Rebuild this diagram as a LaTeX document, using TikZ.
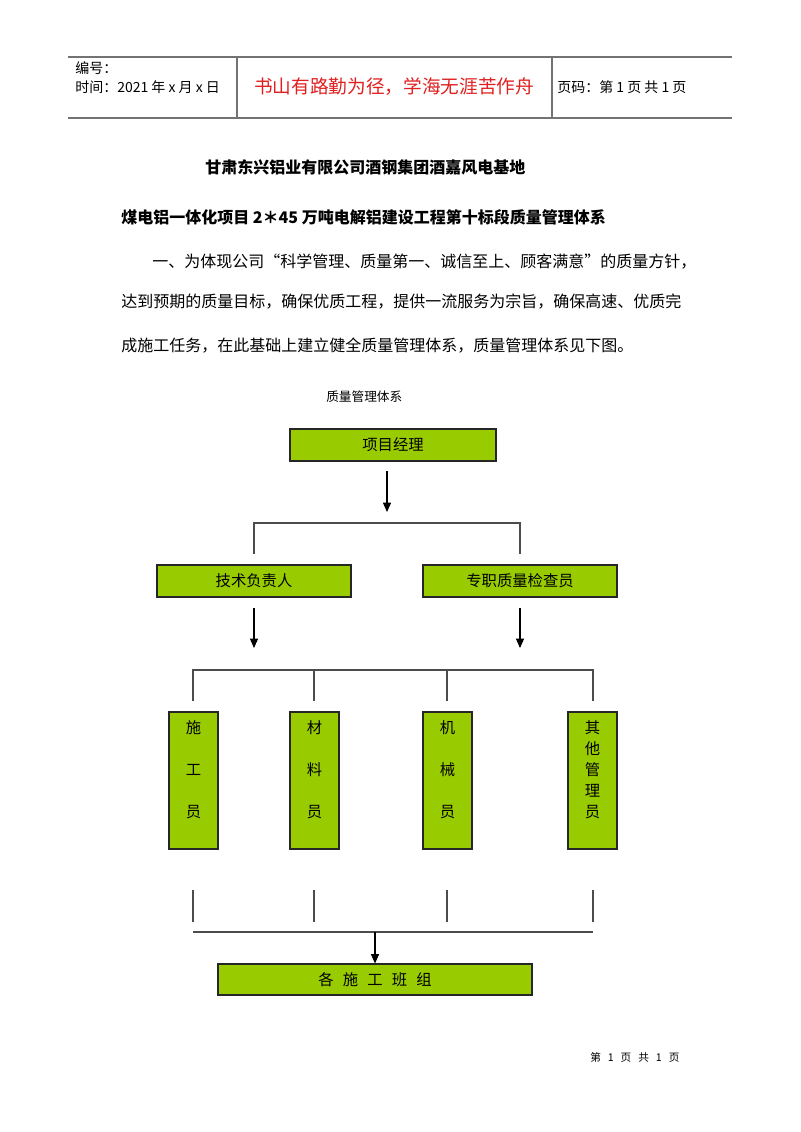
\documentclass[tikz,border=0pt]{standalone}
\usepackage{fontspec}
\setmainfont{Noto Sans CJK SC}
\usetikzlibrary{arrows.meta}
\definecolor{boxgreen}{HTML}{99CC00}
\definecolor{mottored}{HTML}{E02020}
\begin{document}
\begin{tikzpicture}[x=0.75pt,y=-0.75pt,
  box/.style={draw=black!85, line width=0.8pt, fill=boxgreen, inner sep=0pt, font=\fontsize{11.5pt}{14pt}\selectfont},
  tallbox/.style={box, minimum width=36.75pt, minimum height=102.75pt},
  conn/.style={draw=black!70, line width=0.8pt},
  arr/.style={draw=black, line width=0.8pt, -{Triangle[length=7pt,width=6pt]}},
  hline/.style={draw=black!55, line width=1.3pt},
  vline/.style={draw=black!55, line width=0.8pt},
  body/.style={anchor=west, inner sep=0pt, font=\fontsize{12pt}{14pt}\selectfont},
  vtext/.style={anchor=north, inner sep=0pt, align=center}]
\useasboundingbox (0,0) rectangle (800,1132);
\fill[white] (0,0) rectangle (800,1132);
% header
\coordinate (htl) at (68,57); \coordinate (htr) at (732,57);
\coordinate (hbl) at (68,118); \coordinate (hbr) at (732,118);
\draw[hline] (htl) -- (htr);
\draw[hline] (hbl) -- (hbr);
\coordinate (v1t) at (237,57); \coordinate (v1b) at (237,118);
\coordinate (v2t) at (552,57); \coordinate (v2b) at (552,118);
\draw[vline] (v1t) -- (v1b);
\draw[vline] (v2t) -- (v2b);
\node[anchor=west, inner sep=0pt, font=\fontsize{10.5pt}{12pt}\selectfont] (hno) at (75,68) {编号：};
\node[anchor=west, inner sep=0pt, font=\fontsize{10.5pt}{12pt}\selectfont] (htime) at (75,87) {时间：2021 年 x 月 x 日};
\node[inner sep=0pt, text=mottored, font=\fontsize{14pt}{16pt}\selectfont] (motto) at (394,87) {书山有路勤为径，学海无涯苦作舟};
\node[anchor=west, inner sep=0pt, font=\fontsize{10.5pt}{12pt}\selectfont] (hpage) at (557,87) {页码：第 1 页 共 1 页};
% titles and paragraph
\node[body, font=\fontsize{12pt}{14pt}\selectfont\bfseries] (t1) at (205,167) {甘肃东兴铝业有限公司酒钢集团酒嘉风电基地};
\node[body, font=\fontsize{12pt}{14pt}\selectfont\bfseries] (t2) at (121,217) {煤电铝一体化项目 2＊45 万吨电解铝建设工程第十标段质量管理体系};
\node[body] (p1) at (152,262) {一、为体现公司“科学管理、质量第一、诚信至上、顾客满意”的质量方针，};
\node[body] (p2) at (121,302) {达到预期的质量目标，确保优质工程，提供一流服务为宗旨，确保高速、优质完};
\node[body] (p3) at (121,346) {成施工任务，在此基础上建立健全质量管理体系，质量管理体系见下图。};
\node[anchor=west, inner sep=0pt, font=\fontsize{9.5pt}{12pt}\selectfont] (cap) at (326,397) {质量管理体系};
% chart
\node[box, minimum width=154.5pt, minimum height=24pt] (pm) at (393,445) {项目经理};
\node[box, minimum width=145.5pt, minimum height=24pt] (tech) at (254,581) {技术负责人};
\node[box, minimum width=145.5pt, minimum height=24pt] (qc) at (520,581) {专职质量检查员};
\coordinate (a1s) at (387,471); \coordinate (a1e) at (387,512);
\draw[arr] (a1s) -- (a1e);
\coordinate (b1l) at (254,554); \coordinate (b1lt) at (254,523);
\coordinate (b1r) at (520,554); \coordinate (b1rt) at (520,523);
\draw[conn] (b1l) -- (b1lt) -- (b1rt) -- (b1r);
\coordinate (a2s) at (254,608); \coordinate (a2e) at (254,648);
\coordinate (a3s) at (520,608); \coordinate (a3e) at (520,648);
\draw[arr] (a2s) -- (a2e);
\draw[arr] (a3s) -- (a3e);
\coordinate (c1) at (193,701); \coordinate (c1t) at (193,670);
\coordinate (c2) at (314,701); \coordinate (c2t) at (314,670);
\coordinate (c3) at (447,701); \coordinate (c3t) at (447,670);
\coordinate (c4) at (593,701); \coordinate (c4t) at (593,670);
\draw[conn] (c1) -- (c1t) -- (c4t) -- (c4);
\draw[conn] (c2) -- (c2t);
\draw[conn] (c3) -- (c3t);
\node[tallbox] (w1) at (193.5,780.5) {};
\node[tallbox] (w2) at (314.5,780.5) {};
\node[tallbox] (w3) at (447.5,780.5) {};
\node[tallbox] (w4) at (592.5,780.5) {};
\node[vtext, font=\fontsize{11.5pt}{31.5pt}\selectfont] (w1t) at (193.5,720) {施\\工\\员};
\node[vtext, font=\fontsize{11.5pt}{31.5pt}\selectfont] (w2t) at (314.5,720) {材\\料\\员};
\node[vtext, font=\fontsize{11.5pt}{31.5pt}\selectfont] (w3t) at (447.5,720) {机\\械\\员};
\node[vtext, font=\fontsize{11.5pt}{15.75pt}\selectfont] (w4t) at (592.5,720) {其\\他\\管\\理\\员};
\coordinate (d1s) at (193,890); \coordinate (d1e) at (193,922);
\coordinate (d2s) at (314,890); \coordinate (d2e) at (314,922);
\coordinate (d3s) at (447,890); \coordinate (d3e) at (447,922);
\coordinate (d4s) at (593,890); \coordinate (d4e) at (593,922);
\draw[conn] (d1s) -- (d1e);
\draw[conn] (d2s) -- (d2e);
\draw[conn] (d3s) -- (d3e);
\draw[conn] (d4s) -- (d4e);
\coordinate (hl) at (193,932); \coordinate (hr) at (593,932);
\draw[conn] (hl) -- (hr);
\node[box, minimum width=235.5pt, minimum height=23.25pt] (team) at (375,979.5) {各\hspace{0.6em}施\hspace{0.6em}工\hspace{0.6em}班\hspace{0.6em}组};
\coordinate (a4s) at (375,932);
\draw[arr] (a4s) -- (team.north);
% footer
\node[anchor=west, inner sep=0pt, font=\fontsize{8pt}{10pt}\selectfont] (foot) at (590,1057) {第\hspace{0.65em}1\hspace{0.65em}页\hspace{0.65em}共\hspace{0.65em}1\hspace{0.65em}页};
\end{tikzpicture}
\end{document}
